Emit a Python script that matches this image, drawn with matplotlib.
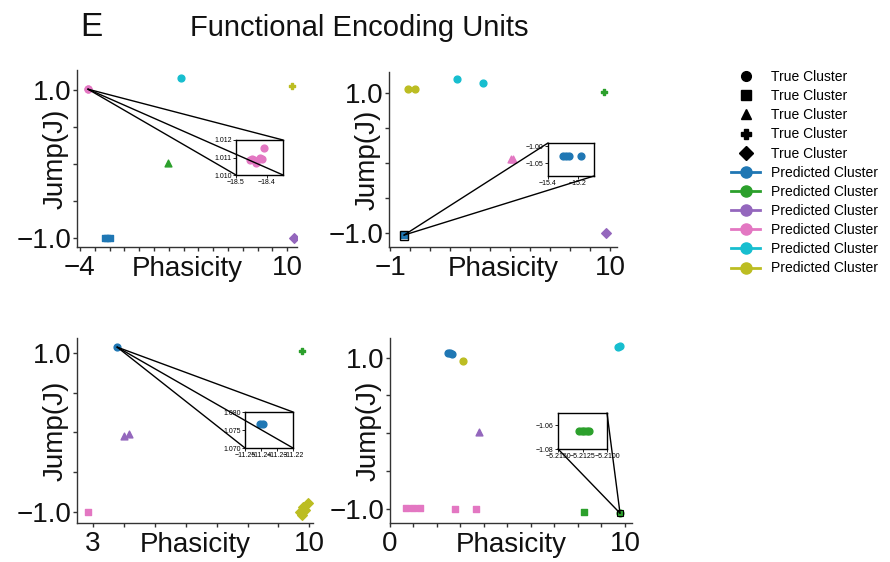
import matplotlib
matplotlib.use("Agg")
import matplotlib.pyplot as plt
import numpy as np
from matplotlib.lines import Line2D
from matplotlib.patches import ConnectionPatch, Rectangle
from matplotlib.transforms import offset_copy

plt.rcParams['font.family'] = ['Liberation Sans', 'DejaVu Sans']

BLUE, GREEN, PURPLE, PINK, CYAN, OLIVE = '#1f77b4', '#2ca02c', '#9467bd', '#e377c2', '#17becf', '#bcbd22'

# ---------------- data ----------------
# Panel 1
p1_pink_x, p1_pink_y = [-3.46, -3.44], [1.011, 1.011]
p1_blue_x, p1_blue_y = [-2.3, -2.15, -2.0], [-1.0, -1.0, -1.0]
p1_green_x, p1_green_y = [1.95], [0.01]
p1_cyan_x, p1_cyan_y = [2.82], [1.16]
p1_olive_x, p1_olive_y = [10.3], [1.05]
p1_purple_x, p1_purple_y = [10.45], [-1.0]
ins1_x = [-18.455, -18.448, -18.441, -18.434, -18.423, -18.417, -18.41]
ins1_y = [1.01088, 1.0109, 1.01088, 1.0107, 1.0110, 1.01094, 1.01153]

# Panel 2
p2_olive_x, p2_olive_y = [-0.1, 0.25], [1.06, 1.06]
p2_cyan_x, p2_cyan_y = [2.35, 3.65], [1.2, 1.14]
p2_green_x, p2_green_y = [9.7], [1.01]
p2_purple_x, p2_purple_y = [9.8], [-1.0]
p2_pink_x, p2_pink_y = [5.05, 5.15], [0.06, 0.06]
p2_blue_x, p2_blue_y = [-0.3], [-1.03]
ins2_x = [-15.3, -15.28, -15.26, -15.18]
ins2_y = [-1.03, -1.03, -1.03, -1.03]

# Panel 3
p3_blue_x, p3_blue_y = [3.78], [1.075]
p3_green_x, p3_green_y = [9.77], [1.03]
p3_purple_x, p3_purple_y = [4.0, 4.17], [-0.04, -0.02]
p3_pink_x, p3_pink_y = [2.85], [-1.0]
p3_olive_x = [9.96, 9.8, 9.7, 9.76, 9.86]
p3_olive_y = [-0.887, -0.937, -1.0, -1.04, -0.975]
ins3_x = [-11.2406, -11.2390]
ins3_y = [1.0767, 1.0767]

# Panel 4
p4_blue_x, p4_blue_y = [2.45, 2.55, 2.65], [1.06, 1.055, 1.045]
p4_olive_x, p4_olive_y = [3.1], [0.95]
p4_cyan_x, p4_cyan_y = [9.72, 9.8], [1.14, 1.16]
p4_purple_x, p4_purple_y = [3.78], [0.02]
p4_pink_x = [0.68, 0.97, 1.27, 2.75, 3.64]
p4_pink_y = [-0.99, -0.99, -0.99, -1.01, -1.01]
p4_gsq_x, p4_gsq_y = [8.26], [-1.05]
p4_green_x, p4_green_y = [9.79], [-1.06]
ins4_x = [-5.2129, -5.2126, -5.2123, -5.2120, -5.2118]
ins4_y = [-1.065, -1.065, -1.065, -1.065, -1.065]

# tick labels
p1_xlabels = ['\u22124', '10']
p2_xlabels = ['\u22121', '10']
p3_xlabels = ['3', '10']
p4_xlabels = ['0', '10']
y_labels = ['\u22121.0', '1.0']

legend_true = ['True Cluster'] * 5
legend_pred = ['Predicted Cluster'] * 6

# ---------------- figure ----------------
W, H = 890, 562
fig = plt.figure(figsize=(8.9, 5.62), dpi=100)

def rect(l, t, r, b):
    return [l / W, (H - b) / H, (r - l) / W, (b - t) / H]

SP = '#333333'
FS = 20

def style_main(ax, xlim, ylim, xt0, xt1, xlabels):
    ax.set_xlim(*xlim)
    ax.set_ylim(*ylim)
    for s in ['top', 'right']:
        ax.spines[s].set_visible(False)
    for s in ['left', 'bottom']:
        ax.spines[s].set_color(SP)
        ax.spines[s].set_linewidth(1.0)
    xt = np.arange(xt0, xt1 + 1)
    ax.set_xticks(xt)
    ax.set_xticklabels([xlabels[0]] + [''] * (len(xt) - 2) + [xlabels[1]])
    yt = np.arange(-1.0, 1.01, 0.5)
    ax.set_yticks(yt)
    ax.set_yticklabels([y_labels[0], '', '', '', y_labels[1]])
    ax.tick_params(axis='x', length=3, width=1, color=SP, labelsize=FS, pad=3, labelcolor='#111111')
    ax.tick_params(axis='y', length=3, width=1, color=SP, labelsize=FS, pad=1, labelcolor='#111111')
    ax.set_xlabel('Phasicity', fontsize=FS, color='#111111')
    ax.set_ylabel('Jump(J)', fontsize=FS, color='#111111')
    ax.xaxis.set_label_coords(0.5, 0.0, transform=offset_copy(ax.transAxes, fig=fig, x=0, y=-9, units='dots'))
    ax.yaxis.set_label_coords(0.0, 0.5, transform=offset_copy(ax.transAxes, fig=fig, x=-8, y=0, units='dots'))
    ax.patch.set_alpha(0)

def style_inset(ax, xlim, ylim, xt, yt, xlabels, ylabels):
    ax.set_xlim(*xlim)
    ax.set_ylim(*ylim)
    for s in ax.spines.values():
        s.set_color('black')
        s.set_linewidth(1.0)
    ax.set_xticks(xt)
    ax.set_yticks(yt)
    ax.set_xticklabels(xlabels)
    ax.set_yticklabels(ylabels)
    ax.tick_params(labelsize=5, length=2, width=0.6, pad=1)

def conn(ax, xy, axi, corners):
    for c in corners:
        cp = ConnectionPatch(xyA=xy, coordsA=ax.transData, xyB=c, coordsB=axi.transAxes,
                             color='black', lw=1.0, zorder=10)
        fig.add_artist(cp)

S = 24

# Panel 1
ax1 = fig.add_axes(rect(77, 70, 297, 247))
ax1.scatter(p1_pink_x, p1_pink_y, s=S, color=PINK, marker='o', zorder=3)
ax1.scatter(p1_blue_x, p1_blue_y, s=S, color=BLUE, marker='s', zorder=3)
ax1.scatter(p1_green_x, p1_green_y, s=S, color=GREEN, marker='^', zorder=3)
ax1.scatter(p1_cyan_x, p1_cyan_y, s=S, color=CYAN, marker='o', zorder=3)
ax1.scatter(p1_olive_x, p1_olive_y, s=S, color=OLIVE, marker='P', zorder=3)
ax1.scatter(p1_purple_x, p1_purple_y, s=S, color=PURPLE, marker='D', zorder=3)
style_main(ax1, (-4.2, 10.66), (-1.12, 1.27), -4, 10, p1_xlabels)
ai1 = fig.add_axes(rect(236, 140, 283, 175))
ai1.scatter(ins1_x, ins1_y, s=S, color=PINK, zorder=3)
style_inset(ai1, (-18.5, -18.348), (1.010, 1.012), [-18.5, -18.4], [1.010, 1.011, 1.012],
            ['\u221218.5', '\u221218.4'], ['1.010', '1.011', '1.012'])
conn(ax1, (p1_pink_x[0], p1_pink_y[0]), ai1, [(1, 1), (1, 0), (0, 0)])

# Panel 2
ax2 = fig.add_axes(rect(389, 72, 617, 247))
ax2.scatter(p2_olive_x, p2_olive_y, s=S, color=OLIVE, marker='o', zorder=3)
ax2.scatter(p2_cyan_x, p2_cyan_y, s=S, color=CYAN, marker='o', zorder=3)
ax2.scatter(p2_green_x, p2_green_y, s=S, color=GREEN, marker='P', zorder=3)
ax2.scatter(p2_purple_x, p2_purple_y, s=S, color=PURPLE, marker='D', zorder=3)
ax2.scatter(p2_pink_x, p2_pink_y, s=S, color=PINK, marker='^', zorder=3)
ax2.scatter(p2_blue_x, p2_blue_y, s=S, color=BLUE, marker='s', zorder=3)
ax2.add_patch(Rectangle((p2_blue_x[0] - 0.22, p2_blue_y[0] - 0.065), 0.44, 0.13,
                        fill=False, ec='black', lw=1.0, zorder=4))
style_main(ax2, (-1.05, 10.35), (-1.2, 1.3), -1, 10, p2_xlabels)
ai2 = fig.add_axes(rect(548, 143, 594, 176))
ai2.scatter(ins2_x, ins2_y, s=S, color=BLUE, zorder=3)
style_inset(ai2, (-15.4, -15.093), (-1.088, -0.991), [-15.4, -15.2], [-1.05, -1.00],
            ['\u221215.4', '\u221215.2'], ['\u22121.05', '\u22121.00'])
conn(ax2, (p2_blue_x[0], p2_blue_y[0]), ai2, [(0, 1), (1, 0)])

# Panel 3
ax3 = fig.add_axes(rect(77, 338, 313, 523))
ax3.scatter(p3_blue_x, p3_blue_y, s=S, color=BLUE, marker='o', zorder=3)
ax3.scatter(p3_green_x, p3_green_y, s=S, color=GREEN, marker='P', zorder=3)
ax3.scatter(p3_purple_x, p3_purple_y, s=S, color=PURPLE, marker='^', zorder=3)
ax3.scatter(p3_pink_x, p3_pink_y, s=S, color=PINK, marker='s', zorder=3)
ax3.scatter(p3_olive_x, p3_olive_y, s=S, color=OLIVE, marker='D', zorder=3)
style_main(ax3, (2.48, 10.12), (-1.14, 1.19), 3, 10, p3_xlabels)
ai3 = fig.add_axes(rect(245, 412, 293, 448))
ai3.scatter(ins3_x, ins3_y, s=S, color=BLUE, zorder=3)
style_inset(ai3, (-11.25, -11.22), (1.070, 1.080), [-11.25, -11.24, -11.23, -11.22],
            [1.070, 1.075, 1.080],
            ['\u221211.25', '\u221211.24', '\u221211.23', '\u221211.22'], ['1.070', '1.075', '1.080'])
conn(ax3, (p3_blue_x[0], p3_blue_y[0]), ai3, [(1, 1), (1, 0), (0, 0)])

# Panel 4
ax4 = fig.add_axes(rect(390, 338, 632, 523))
ax4.scatter(p4_blue_x, p4_blue_y, s=S, color=BLUE, marker='o', zorder=3)
ax4.scatter(p4_olive_x, p4_olive_y, s=S, color=OLIVE, marker='o', zorder=3)
ax4.scatter(p4_cyan_x, p4_cyan_y, s=S, color=CYAN, marker='o', zorder=3)
ax4.scatter(p4_purple_x, p4_purple_y, s=S, color=PURPLE, marker='^', zorder=3)
ax4.scatter(p4_pink_x, p4_pink_y, s=S, color=PINK, marker='s', zorder=3)
ax4.scatter(p4_gsq_x, p4_gsq_y, s=S, color=GREEN, marker='s', zorder=3)
ax4.scatter(p4_green_x, p4_green_y, s=S, color=GREEN, marker='o', zorder=3)
ax4.add_patch(Rectangle((p4_green_x[0] - 0.12, p4_green_y[0] - 0.04), 0.24, 0.08,
                        fill=False, ec='black', lw=0.8, zorder=4))
style_main(ax4, (0, 10.3), (-1.19, 1.26), 0, 10, p4_xlabels)
ai4 = fig.add_axes(rect(558, 413, 607, 449))
ai4.scatter(ins4_x, ins4_y, s=S, color=GREEN, zorder=3)
style_inset(ai4, (-5.215, -5.21), (-1.08, -1.05), [-5.215, -5.2125, -5.21], [-1.08, -1.06],
            ['\u22125.2150', '\u22125.2125', '\u22125.2100'], ['\u22121.08', '\u22121.06'])
conn(ax4, (p4_green_x[0], p4_green_y[0]), ai4, [(1, 1), (0, 0)])

# Titles
fig.text(80 / W, 1 - 28 / H, 'E', fontsize=24, ha='left', va='center', color='#111111')
fig.text(359 / W, 1 - 28 / H, 'Functional Encoding Units', fontsize=21, ha='center', va='center', color='#111111')

# Legend
handles = []
for m in ['o', 's', '^', 'P', 'D']:
    handles.append(Line2D([], [], marker=m, color='black', linestyle='None', markersize=7))
for c in [BLUE, GREEN, PURPLE, PINK, CYAN, OLIVE]:
    handles.append(Line2D([], [], marker='o', color=c, lw=2, markersize=8))
fig.legend(handles, legend_true + legend_pred, loc='upper left',
           bbox_to_anchor=(731 / W, 1 - 70 / H), frameon=False, fontsize=10,
           handlelength=2.1, handletextpad=0.75, labelspacing=0.37, borderpad=0, borderaxespad=0)

fig.savefig('out.png', dpi=100)
